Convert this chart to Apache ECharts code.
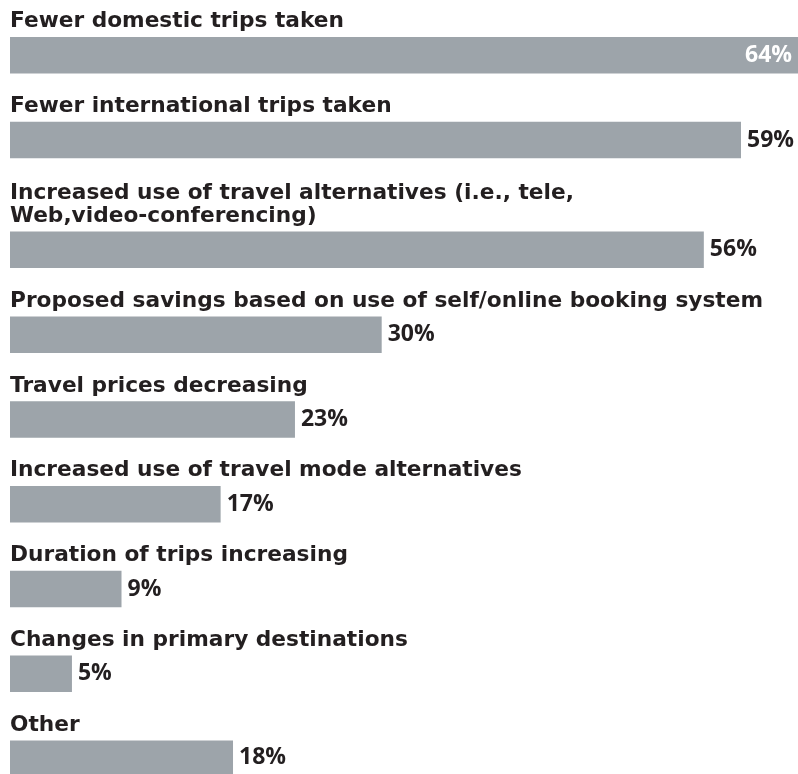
<!DOCTYPE html>
<html>
<head>
<meta charset="utf-8">
<script src="https://cdn.jsdelivr.net/npm/echarts@6/dist/echarts.min.js"></script>
<style>
  html, body { margin: 0; padding: 0; background: #ffffff; }
  #chart { width: 798px; height: 774px; }
</style>
</head>
<body>
<div id="chart"></div>
<script>
// Impact on travel programs, share of respondents (%)
const categories = [
  'Fewer domestic trips taken',
  'Fewer international trips taken',
  'Increased use of travel alternatives (i.e., tele,\nWeb,video-conferencing)',
  'Proposed savings based on use of self/online booking system',
  'Travel prices decreasing',
  'Increased use of travel mode alternatives',
  'Duration of trips increasing',
  'Changes in primary destinations',
  'Other'
];
const values = [64, 59, 56, 30, 23, 17, 9, 5, 18];

const CAPTION_FONT = '"DejaVu Sans", sans-serif';
const VALUE_FONT = '"Open Sans", "Liberation Sans", sans-serif';
const TEXT = '#231f20';
const BAR = '#9da4aa';
const X_MAX = 63.6;

// Row layout: each row is a caption above a single bar
const FIRST_TOP = 37;
const ROW_STEP = 84.8;
const EXTRA_LINE = 25;
const BAR_H = 36.5;

const grids = [], xAxes = [], yAxes = [], series = [];
let extra = 0;
categories.forEach((name, i) => {
  extra += (name.split('\n').length - 1) * EXTRA_LINE;
  const top = FIRST_TOP + ROW_STEP * i + extra;
  grids.push({ left: 10, right: 0, top: top, height: BAR_H });
  xAxes.push({ type: 'value', gridIndex: i, min: 0, max: X_MAX, show: false });
  yAxes.push({
    type: 'category', gridIndex: i, data: [name],
    name: name, nameLocation: 'end', nameGap: 4,
    nameTextStyle: {
      align: 'left', verticalAlign: 'bottom',
      fontFamily: CAPTION_FONT, fontWeight: 'bold', fontSize: 21.7, lineHeight: 22.5, color: TEXT
    },
    axisLine: { show: false }, axisTick: { show: false }, axisLabel: { show: false },
    splitLine: { show: false }
  });
  const v = values[i];
  const inside = v >= X_MAX;
  series.push({
    type: 'bar', xAxisIndex: i, yAxisIndex: i,
    data: [v], barWidth: '100%', clip: true,
    itemStyle: { color: BAR },
    silent: true,
    label: {
      show: true,
      position: inside ? 'insideRight' : 'right',
      distance: 6,
      formatter: '{c}%',
      fontFamily: VALUE_FONT, fontWeight: 'bold', fontSize: 23,
      color: inside ? '#ffffff' : TEXT
    }
  });
});

const chart = echarts.init(document.getElementById('chart'), null, { renderer: 'canvas' });
chart.setOption({
  animation: false,
  grid: grids,
  xAxis: xAxes,
  yAxis: yAxes,
  series: series
});
</script>
</body>
</html>
